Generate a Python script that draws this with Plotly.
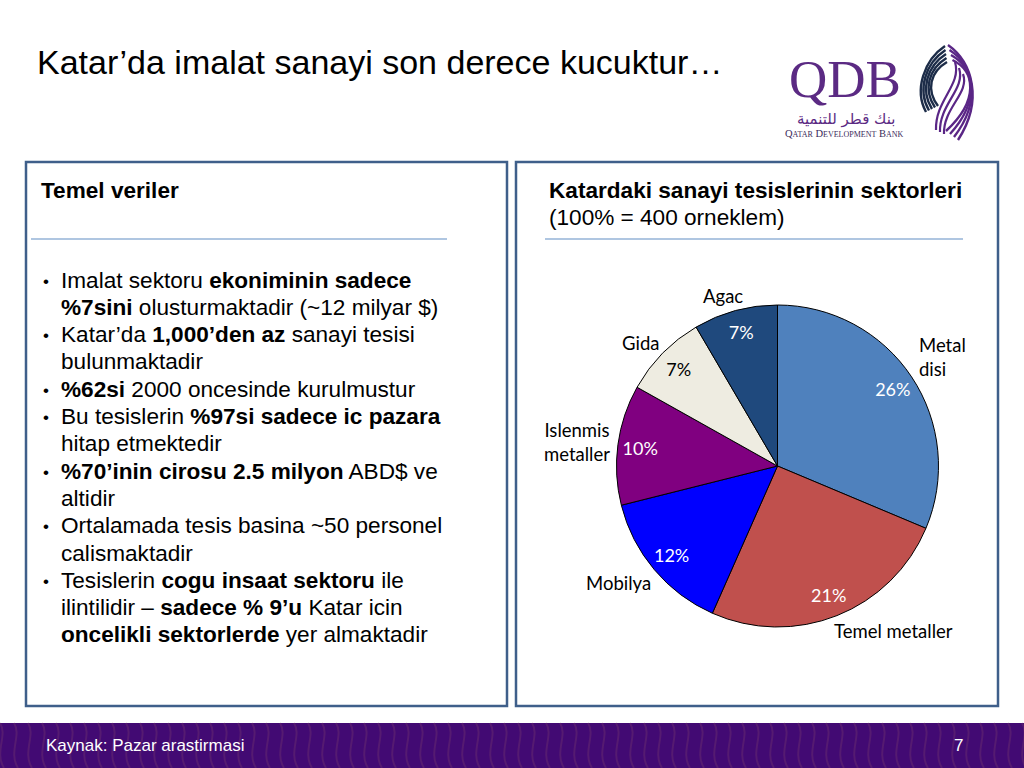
import plotly.graph_objects as go

# ---------------- data ----------------
sectors = ["Metal disi", "Temel metaller", "Mobilya", "Islenmis metaller", "Gida", "Agac"]
shares = [26, 21, 12, 10, 7, 7]
colors = ["#4F81BD", "#C0504D", "#0000FF", "#800080", "#EEECE1", "#1F497D"]
text_colors = ["white", "white", "white", "white", "black", "white"]

title_text = "Katar’da imalat sanayi son derece kucuktur…"
left_header = "Temel veriler"
right_header = "Katardaki sanayi tesislerinin sektorleri"
right_sub = "(100% = 400 orneklem)"
source_text = "Kaynak: Pazar arastirmasi"
page_no = "7"

bullets = [
    ["Imalat sektoru <b>ekoniminin sadece</b>", "<b>%7sini</b> olusturmaktadir (~12 milyar $)"],
    ["Katar’da <b>1,000’den az</b> sanayi tesisi", "bulunmaktadir"],
    ["<b>%62si</b> 2000 oncesinde kurulmustur"],
    ["Bu tesislerin <b>%97si sadece ic pazara</b>", "hitap etmektedir"],
    ["<b>%70’inin cirosu 2.5 milyon</b> ABD$ ve", "altidir"],
    ["Ortalamada tesis basina ~50 personel", "calismaktadir"],
    ["Tesislerin <b>cogu insaat sektoru</b> ile", "ilintilidir – <b>sadece % 9’u</b> Katar icin",
     "<b>oncelikli sektorlerde</b> yer almaktadir"],
]

# outside label placement (pixel space) for pie category names
label_pos = {
    "Metal disi": (918, 357, "left", "Metal<br>disi"),
    "Temel metaller": (893, 631, "center", "Temel metaller"),
    "Mobilya": (618, 583, "center", "Mobilya"),
    "Islenmis metaller": (577, 442, "center", "Islenmis<br>metaller"),
    "Gida": (640, 343, "center", "Gida"),
    "Agac": (723, 296, "center", "Agac"),
}

W, H = 1024, 768
ARIAL = "Liberation Sans, Arial, sans-serif"
CAL = "Lato, Carlito, Calibri, sans-serif"

fig = go.Figure()

cx, cy, r = 777.5, 466, 161
dom = dict(x=[(cx - r) / W, (cx + r) / W], y=[1 - (cy + r) / H, 1 - (cy - r) / H])

# main pie (slices)
fig.add_trace(go.Pie(
    labels=sectors, values=shares, sort=False, direction="clockwise", rotation=0,
    marker=dict(colors=colors, line=dict(color="black", width=1)),
    textinfo="none", domain=dom, showlegend=False, hoverinfo="label+value",
))
# transparent ring overlay used only to place the percentage labels near the rim
fig.add_trace(go.Pie(
    labels=sectors, values=shares, sort=False, direction="clockwise", rotation=0, hole=0.72,
    marker=dict(colors=["rgba(0,0,0,0)"] * len(sectors), line=dict(width=0)),
    texttemplate="%{value}%", textposition="inside", insidetextorientation="horizontal",
    insidetextfont=dict(color=text_colors, family=CAL, size=18),
    domain=dom, showlegend=False, hoverinfo="skip",
))

shapes = []
annotations = []

def rect(x0, y0, x1, y1, **kw):
    shapes.append(dict(type="rect", xref="x", yref="y", x0=x0, y0=y0, x1=x1, y1=y1, **kw))

def line(x0, y0, x1, y1, color, width):
    shapes.append(dict(type="line", xref="x", yref="y", x0=x0, y0=y0, x1=x1, y1=y1,
                       line=dict(color=color, width=width)))

def text(x, y, s, size, color="black", family=ARIAL, xanchor="left", align="left"):
    annotations.append(dict(xref="x", yref="y", x=x, y=y, text=s, showarrow=False,
                            xanchor=xanchor, yanchor="middle", align=align, borderpad=0,
                            font=dict(size=size, color=color, family=family)))

# panels
rect(26, 162, 507, 706, line=dict(color="#3F5F8A", width=2.5), fillcolor="rgba(0,0,0,0)", layer="below")
rect(516, 162, 998, 706, line=dict(color="#3F5F8A", width=2.5), fillcolor="rgba(0,0,0,0)", layer="below")
line(31, 239, 447, 239, "#95B3D7", 1.5)
line(545, 239, 963, 239, "#95B3D7", 1.5)

# footer band with subtle wave texture
rect(0, 723, 1024, 768, line=dict(width=0), fillcolor="#420A73", layer="below")
for i in range(0, 1040, 14):
    shapes.append(dict(type="path", xref="x", yref="y",
                       path=f"M {i},723 C {i+8},735 {i-6},752 {i+4},768",
                       line=dict(color="rgba(120,60,110,0.35)", width=2), layer="below"))

# title
text(36, 62, title_text, 34)

# headers
text(40, 190, "<b>" + left_header + "</b>", 22.6)
text(548, 190, "<b>" + right_header + "</b>", 22.6)
text(548, 217, right_sub, 22.6)

# bullets
y = 280
step = 27.3
for group in bullets:
    text(42, y + 1, "•", 17)
    for ln in group:
        text(60, y, ln, 22.6)
        y += step

# pie outside labels
for name in sectors:
    x0, y0, anc, s = label_pos[name]
    text(x0, y0, s, 18.5, family=CAL, xanchor=anc, align=anc)

# footer text
NARROW = "Liberation Sans Narrow, Liberation Sans, Arial, sans-serif"
text(45, 745, source_text, 17, color="white", family=NARROW)
text(958, 745, page_no, 17, color="white", family=NARROW, xanchor="center", align="center")

# logo
PURPLE = "#5B2A83"
text(845, 79, "QDB", 53, color=PURPLE, family="Liberation Serif, DejaVu Serif, serif", xanchor="center", align="center")
text(846, 119, "بنك قطر للتنمية", 15, color=PURPLE, family="DejaVu Sans, Noto Sans, sans-serif", xanchor="center", align="center")
text(844, 133, "Q<span style='font-size:8px'>ATAR</span> D<span style='font-size:8px'>EVELOPMENT</span> B<span style='font-size:8px'>ANK</span>",
     10.5, color="#3A2A5A", family="Liberation Serif, serif", xanchor="center", align="center")

NAVY = "#1C2C48"
VIO = "#5A2686"
# navy strands: from top centre fanning down-left
for i in range(5):
    shapes.append(dict(type="path", xref="x", yref="y",
                       path=f"M {945 + i*0.5},{46 + i*4} C {924 + i*1.5},{60 + i*3} {914 + i*3},{90} {926 + i*3},{112 - i*1.5}",
                       line=dict(color=NAVY, width=2.4)))
# violet outer strands: from top centre bulging right, down to bottom centre
for i in range(4):
    shapes.append(dict(type="path", xref="x", yref="y",
                       path=f"M {948 + i*1.5},{45 + i*5} C {972 + i*1},{62 + i*3} {984 - i*1.5},{100} {958 - i*4},{140 - i*3}",
                       line=dict(color=VIO, width=2.4)))
# violet crossing strands through the middle
for i in range(3):
    shapes.append(dict(type="path", xref="x", yref="y",
                       path=f"M {955 + i*4},{62 + i*6} C {962 + i*4},{85 + i*4} {935 + i*4},{100 + i*4} {936 + i*4},{130 + i*2}",
                       line=dict(color=VIO, width=2.2)))

fig.update_layout(
    width=W, height=H, margin=dict(l=0, r=0, t=0, b=0),
    paper_bgcolor="white", plot_bgcolor="rgba(0,0,0,0)",
    xaxis=dict(range=[0, W], visible=False, fixedrange=True, domain=[0, 1]),
    yaxis=dict(range=[H, 0], visible=False, fixedrange=True, domain=[0, 1]),
    shapes=shapes, annotations=annotations,
)

fig.write_html("out.html", config={"displayModeBar": False},
               post_script="document.body.style.margin='0px';document.body.style.overflow='hidden';")
